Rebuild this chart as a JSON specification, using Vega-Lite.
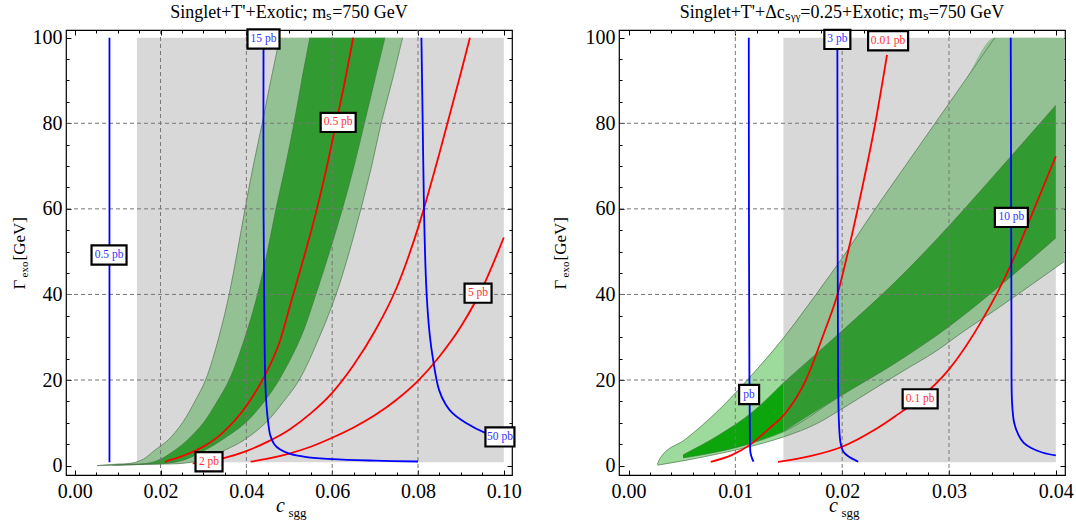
{
"$schema": "https://vega.github.io/schema/vega-lite/v6.json",
"background": "white",
"padding": {"left": 9, "top": 3, "right": 0, "bottom": 0},
"autosize": {"type": "pad"},
"bounds": "flush",
"spacing": 107,
"config": {
 "font": "Liberation Serif",
 "view": {"stroke": "black", "strokeWidth": 1.2},
 "axis": {"domain": false, "grid": false, "labelFont": "Liberation Serif", "labelFontSize": 20, "labelColor": "black", "tickColor": "black", "tickWidth": 1, "titleFont": "Liberation Serif", "titleColor": "black", "titleFontWeight": "normal", "labelFlush": false, "labelOverlap": false, "labelBound": false},
 "title": {"font": "Liberation Serif", "fontSize": 18, "fontWeight": "normal", "color": "black", "offset": 3, "frame": "group", "anchor": "middle"}
},
"datasets": {
 "L_gray": [{"c": 0.0145, "c2": 0.1, "G": 0.8, "G2": 100}],
 "R_gray": [{"c": 0.0145, "c2": 0.04, "G": 0.8, "G2": 100}],
 "L_gx": [{"c": 0.02}, {"c": 0.04}, {"c": 0.06}, {"c": 0.08}],
 "R_gx": [{"c": 0.01}, {"c": 0.02}, {"c": 0.03}],
 "gy": [{"G": 20}, {"G": 40}, {"G": 60}, {"G": 80}],
 "L_outer": [
  {"G": 0, "c": 0.0052, "c2": 0.0052}, {"G": 0.3, "c": 0.0092, "c2": 0.017}, {"G": 0.6, "c": 0.0134, "c2": 0.0258},
  {"G": 1.5, "c": 0.016, "c2": 0.03}, {"G": 3.7, "c": 0.0188, "c2": 0.0352}, {"G": 6, "c": 0.0218, "c2": 0.0395},
  {"G": 10, "c": 0.0251, "c2": 0.0445}, {"G": 15, "c": 0.028, "c2": 0.0487}, {"G": 20, "c": 0.0305, "c2": 0.0523},
  {"G": 30, "c": 0.0336, "c2": 0.057}, {"G": 40, "c": 0.036, "c2": 0.0609}, {"G": 50, "c": 0.0379, "c2": 0.064},
  {"G": 60, "c": 0.0397, "c2": 0.0667}, {"G": 70, "c": 0.0416, "c2": 0.0692}, {"G": 80, "c": 0.0437, "c2": 0.0714},
  {"G": 90, "c": 0.0457, "c2": 0.074}, {"G": 100, "c": 0.0478, "c2": 0.0764}],
 "L_inner": [
  {"G": 0.1, "c": 0.0088, "c2": 0.0095}, {"G": 0.3, "c": 0.013, "c2": 0.016}, {"G": 0.6, "c": 0.0173, "c2": 0.022},
  {"G": 1.5, "c": 0.02, "c2": 0.026}, {"G": 3.7, "c": 0.0235, "c2": 0.0305}, {"G": 6, "c": 0.0263, "c2": 0.0343},
  {"G": 10, "c": 0.03, "c2": 0.0398}, {"G": 15, "c": 0.0332, "c2": 0.0442}, {"G": 20, "c": 0.036, "c2": 0.0476},
  {"G": 30, "c": 0.0397, "c2": 0.0527}, {"G": 40, "c": 0.0426, "c2": 0.0562}, {"G": 50, "c": 0.0449, "c2": 0.0594},
  {"G": 60, "c": 0.0469, "c2": 0.0624}, {"G": 70, "c": 0.0491, "c2": 0.0651}, {"G": 80, "c": 0.0511, "c2": 0.0675},
  {"G": 90, "c": 0.0529, "c2": 0.0699}, {"G": 100, "c": 0.0548, "c2": 0.0723}],
 "R_outer": [
  {"c": 0.0027, "G": 0.1, "G2": 0.3}, {"c": 0.003, "G": 0.22, "G2": 1.9}, {"c": 0.0053, "G": 1.2, "G2": 6.1},
  {"c": 0.0085, "G": 2.8, "G2": 13.1}, {"c": 0.0113, "G": 4.4, "G2": 20.5}, {"c": 0.0145, "G": 6.7, "G2": 29.8},
  {"c": 0.0177, "G": 9.9, "G2": 40.5}, {"c": 0.02, "G": 13.3, "G2": 48.5}, {"c": 0.0231, "G": 18.1, "G2": 60},
  {"c": 0.0259, "G": 22.4, "G2": 70}, {"c": 0.0287, "G": 26.6, "G2": 80}, {"c": 0.0315, "G": 31.6, "G2": 90},
  {"c": 0.0343, "G": 36.3, "G2": 100}, {"c": 0.037, "G": 41, "G2": 100}, {"c": 0.04, "G": 46.3, "G2": 100},
  {"c": 0.0408, "G": 47.7, "G2": 100}],
 "R_inner": [
  {"c": 0.0051, "G": 1.8, "G2": 2.5}, {"c": 0.0085, "G": 3.3, "G2": 7.2}, {"c": 0.0116, "G": 5.3, "G2": 12.5},
  {"c": 0.0145, "G": 7.9, "G2": 19.3}, {"c": 0.02, "G": 16.5, "G2": 31.5}, {"c": 0.025, "G": 24, "G2": 43},
  {"c": 0.03, "G": 32.5, "G2": 56}, {"c": 0.035, "G": 42.5, "G2": 70}, {"c": 0.04, "G": 53.2, "G2": 84.2}],
 "L_lines": [
  {"label": "0.5 pb", "set": "1", "c": 0.0081, "G": 0.8}, {"label": "0.5 pb", "set": "1", "c": 0.0081, "G": 100},
  {"label": "15 pb", "set": "1", "c": 0.044, "G": 100}, {"label": "15 pb", "set": "1", "c": 0.044, "G": 60},
  {"label": "15 pb", "set": "1", "c": 0.0442, "G": 35}, {"label": "15 pb", "set": "1", "c": 0.0444, "G": 20},
  {"label": "15 pb", "set": "1", "c": 0.0447, "G": 14}, {"label": "15 pb", "set": "1", "c": 0.0451, "G": 10},
  {"label": "15 pb", "set": "1", "c": 0.0456, "G": 7}, {"label": "15 pb", "set": "1", "c": 0.0465, "G": 5},
  {"label": "15 pb", "set": "1", "c": 0.0478, "G": 3.8}, {"label": "15 pb", "set": "1", "c": 0.05, "G": 2.8},
  {"label": "15 pb", "set": "1", "c": 0.054, "G": 2.0}, {"label": "15 pb", "set": "1", "c": 0.06, "G": 1.5},
  {"label": "15 pb", "set": "1", "c": 0.07, "G": 1.15}, {"label": "15 pb", "set": "1", "c": 0.08, "G": 0.95},
  {"label": "50 pb", "set": "1", "c": 0.0808, "G": 100}, {"label": "50 pb", "set": "1", "c": 0.0811, "G": 80},
  {"label": "50 pb", "set": "1", "c": 0.0814, "G": 60}, {"label": "50 pb", "set": "1", "c": 0.0818, "G": 45},
  {"label": "50 pb", "set": "1", "c": 0.0822, "G": 37}, {"label": "50 pb", "set": "1", "c": 0.0828, "G": 30},
  {"label": "50 pb", "set": "1", "c": 0.0834, "G": 25.5}, {"label": "50 pb", "set": "1", "c": 0.0849, "G": 17.7},
  {"label": "50 pb", "set": "1", "c": 0.0865, "G": 14.2}, {"label": "50 pb", "set": "1", "c": 0.088, "G": 12.3},
  {"label": "50 pb", "set": "1", "c": 0.0911, "G": 10.0}, {"label": "50 pb", "set": "1", "c": 0.0958, "G": 7.6},
  {"label": "50 pb", "set": "1", "c": 0.099, "G": 6.7},
  {"label": "0.5 pb", "set": "2", "c": 0.021, "G": 0.86}, {"label": "0.5 pb", "set": "2", "c": 0.025, "G": 2.2},
  {"label": "0.5 pb", "set": "2", "c": 0.029, "G": 3.9}, {"label": "0.5 pb", "set": "2", "c": 0.0344, "G": 7.6},
  {"label": "0.5 pb", "set": "2", "c": 0.0399, "G": 13.8}, {"label": "0.5 pb", "set": "2", "c": 0.0446, "G": 21.6},
  {"label": "0.5 pb", "set": "2", "c": 0.0478, "G": 29}, {"label": "0.5 pb", "set": "2", "c": 0.0505, "G": 38.5},
  {"label": "0.5 pb", "set": "2", "c": 0.0535, "G": 49}, {"label": "0.5 pb", "set": "2", "c": 0.0562, "G": 59},
  {"label": "0.5 pb", "set": "2", "c": 0.0588, "G": 70}, {"label": "0.5 pb", "set": "2", "c": 0.0609, "G": 80},
  {"label": "0.5 pb", "set": "2", "c": 0.063, "G": 90}, {"label": "0.5 pb", "set": "2", "c": 0.0649, "G": 100},
  {"label": "2 pb", "set": "2", "c": 0.0275, "G": 0.5}, {"label": "2 pb", "set": "2", "c": 0.0312, "G": 1.0},
  {"label": "2 pb", "set": "2", "c": 0.0345, "G": 1.7}, {"label": "2 pb", "set": "2", "c": 0.04, "G": 3.4},
  {"label": "2 pb", "set": "2", "c": 0.045, "G": 5.6}, {"label": "2 pb", "set": "2", "c": 0.05, "G": 8.4},
  {"label": "2 pb", "set": "2", "c": 0.055, "G": 12.2}, {"label": "2 pb", "set": "2", "c": 0.06, "G": 17.0},
  {"label": "2 pb", "set": "2", "c": 0.065, "G": 23.5}, {"label": "2 pb", "set": "2", "c": 0.07, "G": 31.5},
  {"label": "2 pb", "set": "2", "c": 0.075, "G": 41.5}, {"label": "2 pb", "set": "2", "c": 0.08, "G": 55.5},
  {"label": "2 pb", "set": "2", "c": 0.085, "G": 73}, {"label": "2 pb", "set": "2", "c": 0.09, "G": 91.8},
  {"label": "2 pb", "set": "2", "c": 0.0921, "G": 100},
  {"label": "5 pb", "set": "2", "c": 0.041, "G": 0.9}, {"label": "5 pb", "set": "2", "c": 0.045, "G": 1.6},
  {"label": "5 pb", "set": "2", "c": 0.05, "G": 2.8}, {"label": "5 pb", "set": "2", "c": 0.055, "G": 4.4},
  {"label": "5 pb", "set": "2", "c": 0.06, "G": 6.5}, {"label": "5 pb", "set": "2", "c": 0.065, "G": 8.9},
  {"label": "5 pb", "set": "2", "c": 0.07, "G": 11.8}, {"label": "5 pb", "set": "2", "c": 0.075, "G": 15.4},
  {"label": "5 pb", "set": "2", "c": 0.08, "G": 19.8}, {"label": "5 pb", "set": "2", "c": 0.085, "G": 25.5},
  {"label": "5 pb", "set": "2", "c": 0.09, "G": 32.5}, {"label": "5 pb", "set": "2", "c": 0.095, "G": 41.5},
  {"label": "5 pb", "set": "2", "c": 0.1, "G": 53.3}],
 "R_lines": [
  {"label": "pb", "set": "1", "c": 0.01126, "G": 100}, {"label": "pb", "set": "1", "c": 0.01128, "G": 50},
  {"label": "pb", "set": "1", "c": 0.01132, "G": 20}, {"label": "pb", "set": "1", "c": 0.01136, "G": 8},
  {"label": "pb", "set": "1", "c": 0.01142, "G": 3}, {"label": "pb", "set": "1", "c": 0.01155, "G": 1.8},
  {"label": "pb", "set": "1", "c": 0.0117, "G": 0.9},
  {"label": "3 pb", "set": "1", "c": 0.01955, "G": 100}, {"label": "3 pb", "set": "1", "c": 0.01958, "G": 50},
  {"label": "3 pb", "set": "1", "c": 0.01962, "G": 20}, {"label": "3 pb", "set": "1", "c": 0.0197, "G": 10},
  {"label": "3 pb", "set": "1", "c": 0.01985, "G": 5.3}, {"label": "3 pb", "set": "1", "c": 0.0201, "G": 3.3},
  {"label": "3 pb", "set": "1", "c": 0.0206, "G": 2.1}, {"label": "3 pb", "set": "1", "c": 0.0212, "G": 1.3},
  {"label": "3 pb", "set": "1", "c": 0.0215, "G": 0.9},
  {"label": "10 pb", "set": "1", "c": 0.03578, "G": 100}, {"label": "10 pb", "set": "1", "c": 0.03582, "G": 60},
  {"label": "10 pb", "set": "1", "c": 0.03585, "G": 30}, {"label": "10 pb", "set": "1", "c": 0.0359, "G": 15},
  {"label": "10 pb", "set": "1", "c": 0.0361, "G": 10}, {"label": "10 pb", "set": "1", "c": 0.0365, "G": 7.2},
  {"label": "10 pb", "set": "1", "c": 0.037, "G": 5.3}, {"label": "10 pb", "set": "1", "c": 0.0377, "G": 4.1},
  {"label": "10 pb", "set": "1", "c": 0.0388, "G": 3.0}, {"label": "10 pb", "set": "1", "c": 0.04, "G": 2.4},
  {"label": "0.01 pb", "set": "2", "c": 0.0077, "G": 0.86}, {"label": "0.01 pb", "set": "2", "c": 0.0097, "G": 2.5},
  {"label": "0.01 pb", "set": "2", "c": 0.0114, "G": 4.9}, {"label": "0.01 pb", "set": "2", "c": 0.013, "G": 8.3},
  {"label": "0.01 pb", "set": "2", "c": 0.0147, "G": 12.3}, {"label": "0.01 pb", "set": "2", "c": 0.0166, "G": 20},
  {"label": "0.01 pb", "set": "2", "c": 0.0183, "G": 31}, {"label": "0.01 pb", "set": "2", "c": 0.0195, "G": 39.5},
  {"label": "0.01 pb", "set": "2", "c": 0.0206, "G": 50.5}, {"label": "0.01 pb", "set": "2", "c": 0.0218, "G": 64},
  {"label": "0.01 pb", "set": "2", "c": 0.0231, "G": 80}, {"label": "0.01 pb", "set": "2", "c": 0.0242, "G": 96},
  {"label": "0.1 pb", "set": "2", "c": 0.014, "G": 0.86}, {"label": "0.1 pb", "set": "2", "c": 0.017, "G": 2.2},
  {"label": "0.1 pb", "set": "2", "c": 0.02, "G": 4.4}, {"label": "0.1 pb", "set": "2", "c": 0.023, "G": 8.3},
  {"label": "0.1 pb", "set": "2", "c": 0.025, "G": 11.6}, {"label": "0.1 pb", "set": "2", "c": 0.0273, "G": 15.8},
  {"label": "0.1 pb", "set": "2", "c": 0.03, "G": 22.5}, {"label": "0.1 pb", "set": "2", "c": 0.0331, "G": 34},
  {"label": "0.1 pb", "set": "2", "c": 0.0359, "G": 47.5}, {"label": "0.1 pb", "set": "2", "c": 0.0374, "G": 56.5},
  {"label": "0.1 pb", "set": "2", "c": 0.04, "G": 72.3}],
 "L_labels": [
  {"label": "0.5 pb", "set": "1", "c": 0.0080, "G": 49.2}, {"label": "15 pb", "set": "1", "c": 0.0440, "G": 99.7},
  {"label": "50 pb", "set": "1", "c": 0.0991, "G": 6.7}, {"label": "0.5 pb", "set": "2", "c": 0.0614, "G": 80.2},
  {"label": "2 pb", "set": "2", "c": 0.0313, "G": 0.9}, {"label": "5 pb", "set": "2", "c": 0.0940, "G": 40.3}],
 "R_labels": [
  {"label": "pb", "set": "1", "c": 0.01129, "G": 16.6}, {"label": "3 pb", "set": "1", "c": 0.01955, "G": 99.6},
  {"label": "10 pb", "set": "1", "c": 0.03584, "G": 58}, {"label": "0.01 pb", "set": "2", "c": 0.0243, "G": 99.3},
  {"label": "0.1 pb", "set": "2", "c": 0.0273, "G": 15.6}]
},
"hconcat": [
 {
  "width": 446, "height": 445,
  "title": {"text": "Singlet+T'+Exotic; mₛ=750 GeV"},
  "resolve": {"axis": {"x": "independent", "y": "independent"}},
  "layer": [
   {"data": {"name": "L_gray"}, "mark": {"type": "rect", "color": "#d8d8d8"},
    "encoding": {
     "x": {"field": "c", "type": "quantitative", "scale": {"domain": [-0.00203, 0.10191], "nice": false, "zero": false},
      "axis": {"orient": "bottom", "values": [0, 0.02, 0.04, 0.06, 0.08, 0.1], "format": ".2f", "tickSize": -5, "labelPadding": 11, "title": "c", "titleFontSize": 20, "titleFontStyle": "italic", "titleX": 214, "titleY": 36, "titleAlign": "center", "titleBaseline": "alphabetic"}},
     "x2": {"field": "c2"},
     "y": {"field": "G", "type": "quantitative", "scale": {"domain": [-2.2, 101.8], "nice": false, "zero": false},
      "axis": {"orient": "left", "values": [0, 20, 40, 60, 80, 100], "tickSize": -5, "labelPadding": 9, "title": "Γ", "titleFontSize": 17, "titleAngle": -90, "titleX": -42, "titleY": 259, "titleAlign": "left", "titleBaseline": "alphabetic"}},
     "y2": {"field": "G2"}}},
   {"data": {"name": "L_outer"}, "mark": {"type": "area", "orient": "horizontal", "color": "#93c193", "interpolate": "catmull-rom"},
    "encoding": {
     "y": {"field": "G", "type": "quantitative", "scale": {"domain": [-2.2, 101.8], "nice": false, "zero": false},
      "axis": {"orient": "right", "values": [0, 20, 40, 60, 80, 100], "labels": false, "tickSize": -5, "title": null}},
     "x": {"field": "c", "type": "quantitative", "scale": {"domain": [-0.00203, 0.10191], "nice": false, "zero": false},
      "axis": {"orient": "top", "values": [0, 0.02, 0.04, 0.06, 0.08, 0.1], "labels": false, "tickSize": -5, "title": null}},
     "x2": {"field": "c2"}}},
   {"data": {"name": "L_inner"}, "mark": {"type": "area", "orient": "horizontal", "color": "#319b31", "interpolate": "catmull-rom"},
    "encoding": {
     "y": {"field": "G", "type": "quantitative", "scale": {"domain": [-2.2, 101.8], "nice": false, "zero": false},
      "axis": {"orient": "left", "values": [5, 10, 15, 25, 30, 35, 45, 50, 55, 65, 70, 75, 85, 90, 95], "labels": false, "tickSize": -3, "title": "exo", "titleFontSize": 11, "titleAngle": -90, "titleX": -39, "titleY": 247, "titleAlign": "left", "titleBaseline": "alphabetic"}},
     "x": {"field": "c", "type": "quantitative", "scale": {"domain": [-0.00203, 0.10191], "nice": false, "zero": false},
      "axis": {"orient": "bottom", "values": [0.005, 0.01, 0.015, 0.025, 0.03, 0.035, 0.045, 0.05, 0.055, 0.065, 0.07, 0.075, 0.085, 0.09, 0.095], "labels": false, "tickSize": -3, "title": "sgg", "titleFontSize": 13, "titleFontStyle": "normal", "titleX": 222, "titleY": 41, "titleAlign": "left", "titleBaseline": "alphabetic"}},
     "x2": {"field": "c2"}}},
   {"data": {"name": "L_outer"}, "mark": {"type": "line", "color": "#5b7f5b", "strokeWidth": 0.8, "interpolate": "catmull-rom"},
    "encoding": {"x": {"field": "c", "type": "quantitative", "scale": {"domain": [-0.00203, 0.10191], "nice": false, "zero": false}, "axis": null},
     "y": {"field": "G", "type": "quantitative", "scale": {"domain": [-2.2, 101.8], "nice": false, "zero": false}, "axis": null}, "order": {"field": "G"}}},
   {"data": {"name": "L_outer"}, "mark": {"type": "line", "color": "#5b7f5b", "strokeWidth": 0.8, "interpolate": "catmull-rom"},
    "encoding": {"x": {"field": "c2", "type": "quantitative", "scale": {"domain": [-0.00203, 0.10191], "nice": false, "zero": false}, "axis": null},
     "y": {"field": "G", "type": "quantitative", "scale": {"domain": [-2.2, 101.8], "nice": false, "zero": false}, "axis": null}, "order": {"field": "G"}}},
   {"data": {"name": "L_inner"}, "mark": {"type": "line", "color": "#3f6f3f", "strokeWidth": 0.6, "interpolate": "catmull-rom"},
    "encoding": {"x": {"field": "c", "type": "quantitative", "scale": {"domain": [-0.00203, 0.10191], "nice": false, "zero": false}, "axis": null},
     "y": {"field": "G", "type": "quantitative", "scale": {"domain": [-2.2, 101.8], "nice": false, "zero": false}, "axis": null}, "order": {"field": "G"}}},
   {"data": {"name": "L_inner"}, "mark": {"type": "line", "color": "#3f6f3f", "strokeWidth": 0.6, "interpolate": "catmull-rom"},
    "encoding": {"x": {"field": "c2", "type": "quantitative", "scale": {"domain": [-0.00203, 0.10191], "nice": false, "zero": false}, "axis": null},
     "y": {"field": "G", "type": "quantitative", "scale": {"domain": [-2.2, 101.8], "nice": false, "zero": false}, "axis": null}, "order": {"field": "G"}}},
   {"data": {"name": "L_gx"}, "mark": {"type": "rule", "color": "#777777", "strokeDash": [4, 3], "strokeWidth": 1},
    "encoding": {"x": {"field": "c", "type": "quantitative", "scale": {"domain": [-0.00203, 0.10191], "nice": false, "zero": false},
     "axis": {"orient": "top", "values": [0.005, 0.01, 0.015, 0.025, 0.03, 0.035, 0.045, 0.05, 0.055, 0.065, 0.07, 0.075, 0.085, 0.09, 0.095], "labels": false, "tickSize": -3, "title": null}}}},
   {"data": {"name": "gy"}, "mark": {"type": "rule", "color": "#777777", "strokeDash": [4, 3], "strokeWidth": 1},
    "encoding": {"y": {"field": "G", "type": "quantitative", "scale": {"domain": [-2.2, 101.8], "nice": false, "zero": false},
     "axis": {"orient": "right", "values": [5, 10, 15, 25, 30, 35, 45, 50, 55, 65, 70, 75, 85, 90, 95], "labels": false, "tickSize": -3, "title": null}}}},
   {"data": {"name": "L_lines"}, "transform": [{"filter": "datum.set == '2'"}], "mark": {"type": "line", "color": "#ff0000", "strokeWidth": 1.8, "interpolate": "monotone"},
    "encoding": {"x": {"field": "c", "type": "quantitative", "scale": {"domain": [-0.00203, 0.10191], "nice": false, "zero": false}, "axis": null},
     "y": {"field": "G", "type": "quantitative", "scale": {"domain": [-2.2, 101.8], "nice": false, "zero": false},
      "axis": {"orient": "left", "labels": false, "ticks": false, "title": "[GeV]", "titleFontSize": 17, "titleAngle": -90, "titleX": -42, "titleY": 230, "titleAlign": "left", "titleBaseline": "alphabetic"}},
     "detail": {"field": "label"}, "order": {"field": "c"}}},
   {"data": {"name": "L_lines"}, "transform": [{"filter": "datum.set == '1'"}], "mark": {"type": "line", "color": "#0000ff", "strokeWidth": 1.8, "interpolate": "catmull-rom"},
    "encoding": {"x": {"field": "c", "type": "quantitative", "scale": {"domain": [-0.00203, 0.10191], "nice": false, "zero": false}, "axis": null},
     "y": {"field": "G", "type": "quantitative", "scale": {"domain": [-2.2, 101.8], "nice": false, "zero": false}, "axis": null},
     "detail": {"field": "label"}, "order": {"field": "G"}}},
   {"data": {"name": "L_labels"}, "mark": {"type": "point", "filled": true, "fill": "white", "stroke": "black", "strokeWidth": 2.2, "size": 1600, "opacity": 1},
    "encoding": {"x": {"field": "c", "type": "quantitative", "scale": {"domain": [-0.00203, 0.10191], "nice": false, "zero": false}, "axis": null},
     "y": {"field": "G", "type": "quantitative", "scale": {"domain": [-2.2, 101.8], "nice": false, "zero": false}, "axis": null},
     "shape": {"field": "label", "type": "nominal", "legend": null, "scale": {"domain": ["0.5 pb", "15 pb", "50 pb", "2 pb", "5 pb", "pb", "3 pb", "10 pb", "0.01 pb", "0.1 pb"],
      "range": ["M-0.875,-0.48L0.875,-0.48L0.875,0.48L-0.875,0.48Z", "M-0.8,-0.48L0.8,-0.48L0.8,0.48L-0.8,0.48Z", "M-0.725,-0.48L0.725,-0.48L0.725,0.48L-0.725,0.48Z", "M-0.675,-0.48L0.675,-0.48L0.675,0.48L-0.675,0.48Z", "M-0.675,-0.48L0.675,-0.48L0.675,0.48L-0.675,0.48Z", "M-0.5,-0.48L0.5,-0.48L0.5,0.48L-0.5,0.48Z", "M-0.65,-0.48L0.65,-0.48L0.65,0.48L-0.65,0.48Z", "M-0.825,-0.48L0.825,-0.48L0.825,0.48L-0.825,0.48Z", "M-1,-0.48L1,-0.48L1,0.48L-1,0.48Z", "M-0.875,-0.48L0.875,-0.48L0.875,0.48L-0.875,0.48Z"]}}}},
   {"data": {"name": "L_labels"}, "mark": {"type": "text", "font": "Liberation Serif", "fontSize": 11.5, "align": "center", "baseline": "middle"},
    "encoding": {"x": {"field": "c", "type": "quantitative", "scale": {"domain": [-0.00203, 0.10191], "nice": false, "zero": false}, "axis": null},
     "y": {"field": "G", "type": "quantitative", "scale": {"domain": [-2.2, 101.8], "nice": false, "zero": false}, "axis": null},
     "text": {"field": "label"},
     "color": {"condition": {"test": "datum.set == '1'", "value": "#3333ff"}, "value": "#ff3030"}}}
  ]
 },
 {
  "width": 446, "height": 445,
  "title": {"text": "Singlet+T'+Δcₛᵧᵧ=0.25+Exotic; mₛ=750 GeV"},
  "resolve": {"axis": {"x": "independent", "y": "independent"}},
  "layer": [
   {"data": {"name": "R_gray"}, "mark": {"type": "rect", "color": "#d8d8d8", "cornerRadiusBottomLeft": 3},
    "encoding": {
     "x": {"field": "c", "type": "quantitative", "scale": {"domain": [-0.00089, 0.04086], "nice": false, "zero": false},
      "axis": {"orient": "bottom", "values": [0, 0.01, 0.02, 0.03, 0.04], "format": ".2f", "tickSize": -5, "labelPadding": 11, "title": "c", "titleFontSize": 20, "titleFontStyle": "italic", "titleX": 214, "titleY": 36, "titleAlign": "center", "titleBaseline": "alphabetic"}},
     "x2": {"field": "c2"},
     "y": {"field": "G", "type": "quantitative", "scale": {"domain": [-2.2, 101.8], "nice": false, "zero": false},
      "axis": {"orient": "left", "values": [0, 20, 40, 60, 80, 100], "tickSize": -5, "labelPadding": 9, "title": "Γ", "titleFontSize": 17, "titleAngle": -90, "titleX": -54, "titleY": 259, "titleAlign": "left", "titleBaseline": "alphabetic"}},
     "y2": {"field": "G2"}}},
   {"data": {"name": "R_outer"}, "transform": [{"filter": "datum.c <= 0.01451"}], "mark": {"type": "area", "orient": "vertical", "color": "#9cdb9c", "interpolate": "monotone"},
    "encoding": {"x": {"field": "c", "type": "quantitative", "scale": {"domain": [-0.00089, 0.04086], "nice": false, "zero": false}, "axis": null},
     "y": {"field": "G", "type": "quantitative", "scale": {"domain": [-2.2, 101.8], "nice": false, "zero": false}, "axis": null}, "y2": {"field": "G2"}}},
   {"data": {"name": "R_outer"}, "transform": [{"filter": "datum.c >= 0.01449"}], "mark": {"type": "area", "orient": "vertical", "color": "#93c193", "interpolate": "monotone"},
    "encoding": {"x": {"field": "c", "type": "quantitative", "scale": {"domain": [-0.00089, 0.04086], "nice": false, "zero": false},
      "axis": {"orient": "top", "values": [0, 0.01, 0.02, 0.03, 0.04], "labels": false, "tickSize": -5, "title": null}},
     "y": {"field": "G", "type": "quantitative", "scale": {"domain": [-2.2, 101.8], "nice": false, "zero": false},
      "axis": {"orient": "right", "values": [0, 20, 40, 60, 80, 100], "labels": false, "tickSize": -5, "title": null}}, "y2": {"field": "G2"}}},
   {"data": {"name": "R_inner"}, "transform": [{"filter": "datum.c <= 0.01451"}], "mark": {"type": "area", "orient": "vertical", "color": "#0ca50c", "interpolate": "monotone"},
    "encoding": {"x": {"field": "c", "type": "quantitative", "scale": {"domain": [-0.00089, 0.04086], "nice": false, "zero": false}, "axis": null},
     "y": {"field": "G", "type": "quantitative", "scale": {"domain": [-2.2, 101.8], "nice": false, "zero": false}, "axis": null}, "y2": {"field": "G2"}}},
   {"data": {"name": "R_inner"}, "transform": [{"filter": "datum.c >= 0.01449"}], "mark": {"type": "area", "orient": "vertical", "color": "#319b31", "interpolate": "monotone"},
    "encoding": {"x": {"field": "c", "type": "quantitative", "scale": {"domain": [-0.00089, 0.04086], "nice": false, "zero": false},
      "axis": {"orient": "bottom", "values": [0.002, 0.004, 0.006, 0.008, 0.012, 0.014, 0.016, 0.018, 0.022, 0.024, 0.026, 0.028, 0.032, 0.034, 0.036, 0.038], "labels": false, "tickSize": -3, "title": "sgg", "titleFontSize": 13, "titleFontStyle": "normal", "titleX": 222, "titleY": 41, "titleAlign": "left", "titleBaseline": "alphabetic"}},
     "y": {"field": "G", "type": "quantitative", "scale": {"domain": [-2.2, 101.8], "nice": false, "zero": false},
      "axis": {"orient": "left", "values": [5, 10, 15, 25, 30, 35, 45, 50, 55, 65, 70, 75, 85, 90, 95], "labels": false, "tickSize": -3, "title": "exo", "titleFontSize": 11, "titleAngle": -90, "titleX": -51, "titleY": 247, "titleAlign": "left", "titleBaseline": "alphabetic"}},
     "y2": {"field": "G2"}}},
   {"data": {"name": "R_outer"}, "mark": {"type": "line", "color": "#5b7f5b", "strokeWidth": 0.8, "interpolate": "monotone"},
    "encoding": {"x": {"field": "c", "type": "quantitative", "scale": {"domain": [-0.00089, 0.04086], "nice": false, "zero": false}, "axis": null},
     "y": {"field": "G", "type": "quantitative", "scale": {"domain": [-2.2, 101.8], "nice": false, "zero": false}, "axis": null}, "order": {"field": "c"}}},
   {"data": {"name": "R_outer"}, "transform": [{"filter": "datum.c <= 0.0344"}], "mark": {"type": "line", "color": "#5b7f5b", "strokeWidth": 0.8, "interpolate": "monotone"},
    "encoding": {"x": {"field": "c", "type": "quantitative", "scale": {"domain": [-0.00089, 0.04086], "nice": false, "zero": false}, "axis": null},
     "y": {"field": "G2", "type": "quantitative", "scale": {"domain": [-2.2, 101.8], "nice": false, "zero": false}, "axis": null}, "order": {"field": "c"}}},
   {"data": {"name": "R_inner"}, "mark": {"type": "line", "color": "#3f6f3f", "strokeWidth": 0.6, "interpolate": "monotone"},
    "encoding": {"x": {"field": "c", "type": "quantitative", "scale": {"domain": [-0.00089, 0.04086], "nice": false, "zero": false}, "axis": null},
     "y": {"field": "G", "type": "quantitative", "scale": {"domain": [-2.2, 101.8], "nice": false, "zero": false}, "axis": null}, "order": {"field": "c"}}},
   {"data": {"name": "R_inner"}, "mark": {"type": "line", "color": "#3f6f3f", "strokeWidth": 0.6, "interpolate": "monotone"},
    "encoding": {"x": {"field": "c", "type": "quantitative", "scale": {"domain": [-0.00089, 0.04086], "nice": false, "zero": false}, "axis": null},
     "y": {"field": "G2", "type": "quantitative", "scale": {"domain": [-2.2, 101.8], "nice": false, "zero": false}, "axis": null}, "order": {"field": "c"}}},
   {"data": {"name": "R_gx"}, "mark": {"type": "rule", "color": "#777777", "strokeDash": [4, 3], "strokeWidth": 1},
    "encoding": {"x": {"field": "c", "type": "quantitative", "scale": {"domain": [-0.00089, 0.04086], "nice": false, "zero": false},
     "axis": {"orient": "top", "values": [0.002, 0.004, 0.006, 0.008, 0.012, 0.014, 0.016, 0.018, 0.022, 0.024, 0.026, 0.028, 0.032, 0.034, 0.036, 0.038], "labels": false, "tickSize": -3, "title": null}}}},
   {"data": {"name": "gy"}, "mark": {"type": "rule", "color": "#777777", "strokeDash": [4, 3], "strokeWidth": 1},
    "encoding": {"y": {"field": "G", "type": "quantitative", "scale": {"domain": [-2.2, 101.8], "nice": false, "zero": false},
     "axis": {"orient": "right", "values": [5, 10, 15, 25, 30, 35, 45, 50, 55, 65, 70, 75, 85, 90, 95], "labels": false, "tickSize": -3, "title": null}}}},
   {"data": {"name": "R_lines"}, "transform": [{"filter": "datum.set == '2'"}], "mark": {"type": "line", "color": "#ff0000", "strokeWidth": 1.8, "interpolate": "monotone"},
    "encoding": {"x": {"field": "c", "type": "quantitative", "scale": {"domain": [-0.00089, 0.04086], "nice": false, "zero": false}, "axis": null},
     "y": {"field": "G", "type": "quantitative", "scale": {"domain": [-2.2, 101.8], "nice": false, "zero": false},
      "axis": {"orient": "left", "labels": false, "ticks": false, "title": "[GeV]", "titleFontSize": 17, "titleAngle": -90, "titleX": -54, "titleY": 230, "titleAlign": "left", "titleBaseline": "alphabetic"}},
     "detail": {"field": "label"}, "order": {"field": "c"}}},
   {"data": {"name": "R_lines"}, "transform": [{"filter": "datum.set == '1'"}], "mark": {"type": "line", "color": "#0000ff", "strokeWidth": 1.8, "interpolate": "catmull-rom"},
    "encoding": {"x": {"field": "c", "type": "quantitative", "scale": {"domain": [-0.00089, 0.04086], "nice": false, "zero": false}, "axis": null},
     "y": {"field": "G", "type": "quantitative", "scale": {"domain": [-2.2, 101.8], "nice": false, "zero": false}, "axis": null},
     "detail": {"field": "label"}, "order": {"field": "G"}}},
   {"data": {"name": "R_labels"}, "mark": {"type": "point", "filled": true, "fill": "white", "stroke": "black", "strokeWidth": 2.2, "size": 1600, "opacity": 1},
    "encoding": {"x": {"field": "c", "type": "quantitative", "scale": {"domain": [-0.00089, 0.04086], "nice": false, "zero": false}, "axis": null},
     "y": {"field": "G", "type": "quantitative", "scale": {"domain": [-2.2, 101.8], "nice": false, "zero": false}, "axis": null},
     "shape": {"field": "label", "type": "nominal", "legend": null, "scale": {"domain": ["0.5 pb", "15 pb", "50 pb", "2 pb", "5 pb", "pb", "3 pb", "10 pb", "0.01 pb", "0.1 pb"],
      "range": ["M-0.875,-0.48L0.875,-0.48L0.875,0.48L-0.875,0.48Z", "M-0.8,-0.48L0.8,-0.48L0.8,0.48L-0.8,0.48Z", "M-0.725,-0.48L0.725,-0.48L0.725,0.48L-0.725,0.48Z", "M-0.675,-0.48L0.675,-0.48L0.675,0.48L-0.675,0.48Z", "M-0.675,-0.48L0.675,-0.48L0.675,0.48L-0.675,0.48Z", "M-0.5,-0.48L0.5,-0.48L0.5,0.48L-0.5,0.48Z", "M-0.65,-0.48L0.65,-0.48L0.65,0.48L-0.65,0.48Z", "M-0.825,-0.48L0.825,-0.48L0.825,0.48L-0.825,0.48Z", "M-1,-0.48L1,-0.48L1,0.48L-1,0.48Z", "M-0.875,-0.48L0.875,-0.48L0.875,0.48L-0.875,0.48Z"]}}}},
   {"data": {"name": "R_labels"}, "mark": {"type": "text", "font": "Liberation Serif", "fontSize": 11.5, "align": "center", "baseline": "middle"},
    "encoding": {"x": {"field": "c", "type": "quantitative", "scale": {"domain": [-0.00089, 0.04086], "nice": false, "zero": false}, "axis": null},
     "y": {"field": "G", "type": "quantitative", "scale": {"domain": [-2.2, 101.8], "nice": false, "zero": false}, "axis": null},
     "text": {"field": "label"},
     "color": {"condition": {"test": "datum.set == '1'", "value": "#3333ff"}, "value": "#ff3030"}}}
  ]
 }
]
}
